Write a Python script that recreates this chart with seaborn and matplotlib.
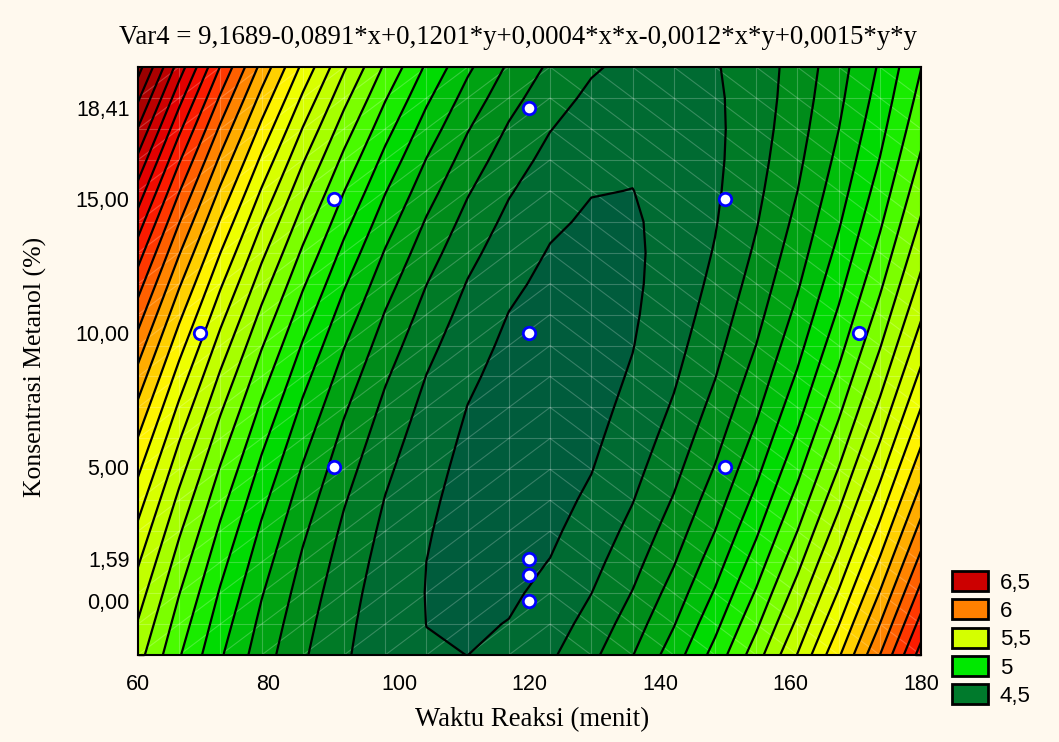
import numpy as np
import matplotlib
matplotlib.use("Agg")
import matplotlib.pyplot as plt
from matplotlib.colors import LinearSegmentedColormap
from matplotlib.collections import LineCollection
from matplotlib.patches import Patch
from matplotlib.ticker import FixedLocator, MultipleLocator
import seaborn as sns

# Fitted quadratic response surface: Var4 = f(x = reaction time, y = methanol %)
b0 = 9.1689
b_x = -0.0891
b_y = 0.1201
b_xx = 0.0004
b_xy = -0.00116
b_yy = 0.00152

# Experimental design points
time_pts = [69.55, 90, 90, 120, 120, 120, 120, 120, 150, 150, 170.45]
meoh_pts = [10, 5, 15, 0, 1.0, 1.59, 10, 18.41, 5, 15, 10]

x_ticks = [60, 80, 100, 120, 140, 160, 180]
y_ticks = [0.0, 1.59, 5.0, 10.0, 15.0, 18.41]

legend_values = [6.5, 6.0, 5.5, 5.0, 4.5]
legend_colors = ["#CC0000", "#FF8000", "#D4FF00", "#00E800", "#007A2C"]

# Colour ramp used to shade the contour bands
ramp_values = [4.17, 4.30, 4.40, 4.50, 4.60, 4.70, 4.80, 4.90, 5.00, 5.20,
               5.40, 5.55, 5.70, 5.85, 6.00, 6.15, 6.35, 6.55, 6.90]
ramp_colors = ["#005C3C", "#006E30", "#007E22", "#009018", "#00A810",
               "#00C808", "#00E000", "#20F000", "#58FF00", "#B0FF00",
               "#DCFF00", "#FFFF00", "#FFC800", "#FF9000", "#FF5800",
               "#FF2000", "#E80000", "#C00000", "#880000"]

X_RANGE = (60, 180)
Y_RANGE = (-2.0, 19.92)

sns.set_style("white")
plt.rcParams["font.family"] = ["Liberation Sans", "DejaVu Sans"]
plt.rcParams["text.color"] = "black"
plt.rcParams["axes.labelcolor"] = "black"

BG = "#FFF9EE"
fig = plt.figure(figsize=(10.59, 7.42), dpi=100, facecolor=BG)
ax = fig.add_axes([138 / 1059, 1 - 655 / 742, 783 / 1059, 588 / 742])

# Surface evaluated on a coarse 20 x 20 mesh
gx = np.linspace(*X_RANGE, 20)
gy = np.linspace(*Y_RANGE, 20)
GX, GY = np.meshgrid(gx, gy)
Z = (b0 + b_x * GX + b_y * GY + b_xx * GX * GX
     + b_xy * GX * GY + b_yy * GY * GY)

levels = np.concatenate([[Z.min() - 0.1], np.arange(4.23, 7.05, 0.1)])
levels = levels[levels <= Z.max() + 0.1]
lo, hi = ramp_values[0], ramp_values[-1]
cmap = LinearSegmentedColormap.from_list(
    "ramp", [((v - lo) / (hi - lo), c) for v, c in zip(ramp_values, ramp_colors)])
mids = [(levels[i] + levels[i + 1]) / 2 for i in range(len(levels) - 1)]
mids[0] = lo
band_colors = [cmap(np.clip((m - lo) / (hi - lo), 0, 1)) for m in mids]

ax.contourf(GX, GY, Z, levels=levels, colors=band_colors, antialiased=True, zorder=1)

# faint triangulated mesh
segs = [[(x, Y_RANGE[0]), (x, Y_RANGE[1])] for x in gx]
segs += [[(X_RANGE[0], y), (X_RANGE[1], y)] for y in gy]
for i in range(len(gx) - 1):
    for j in range(len(gy) - 1):
        if i < 10:
            segs.append([(gx[i], gy[j]), (gx[i + 1], gy[j + 1])])
        else:
            segs.append([(gx[i], gy[j + 1]), (gx[i + 1], gy[j])])
ax.add_collection(LineCollection(segs, colors="white", alpha=0.22,
                                 linewidths=0.8, zorder=2))

ax.contour(GX, GY, Z, levels=levels[1:], colors="black", linewidths=1.6, zorder=3)

sns.scatterplot(x=time_pts, y=meoh_pts, ax=ax, s=80, color="white",
                edgecolor="#0000FF", linewidth=2.0, zorder=5, legend=False)

ax.set_xlim(*X_RANGE)
ax.set_ylim(*Y_RANGE)
ax.set_facecolor(BG)
ax.xaxis.set_major_locator(FixedLocator(x_ticks))
ax.yaxis.set_major_locator(FixedLocator(y_ticks))
ax.set_xticklabels([str(v) for v in x_ticks])
ax.set_yticklabels([f"{v:.2f}".replace(".", ",") for v in y_ticks])
ax.xaxis.set_minor_locator(MultipleLocator(5))
ax.yaxis.set_minor_locator(MultipleLocator(2))
ax.tick_params(which="major", direction="out", length=3, width=1, labelsize=15.5,
               colors="black", labelcolor="black")
ax.tick_params(axis="x", which="major", pad=10.5)
ax.tick_params(axis="y", which="major", pad=3)
ax.tick_params(which="minor", direction="in", length=4, width=1, colors="black",
               top=True, right=True, bottom=True, left=True)
for s in ax.spines.values():
    s.set_color("black")
    s.set_linewidth(1.5)

serif = ["Liberation Serif", "DejaVu Serif"]
title = ("Var4 = " + f"{b0:.4f}"
         + "".join(f"{'+' if c >= 0 else '-'}{abs(c):.4f}*{t}"
                   for c, t in [(b_x, "x"), (b_y, "y"), (b_xx, "x*x"),
                                (b_xy, "x*y"), (b_yy, "y*y")])).replace(".", ",")
fig.text(518 / 1059, 1 - 37 / 742, title, family=serif, fontsize=19.3,
         ha="center", va="center", color="black")
fig.text(532 / 1059, 1 - 720 / 742, "Waktu Reaksi (menit)", family=serif,
         fontsize=19.3, ha="center", va="center", color="black")
fig.text(35 / 1059, 1 - 367 / 742, "Konsentrasi Metanol (%)", family=serif,
         fontsize=18.5, ha="center", va="center", rotation=90, color="black")

handles = [Patch(facecolor=c, edgecolor="black", linewidth=2) for c in legend_colors]
labels = [f"{v:g}".replace(".", ",") for v in legend_values]
fig.legend(handles, labels, loc="upper left",
           bbox_to_anchor=(952 / 1059, 1 - 571 / 742), frameon=False,
           fontsize=16, handlelength=1.6, handleheight=1.0,
           labelspacing=0.26, handletextpad=0.55, borderaxespad=0,
           borderpad=0)

fig.savefig("out.png", dpi=100, facecolor=BG)
